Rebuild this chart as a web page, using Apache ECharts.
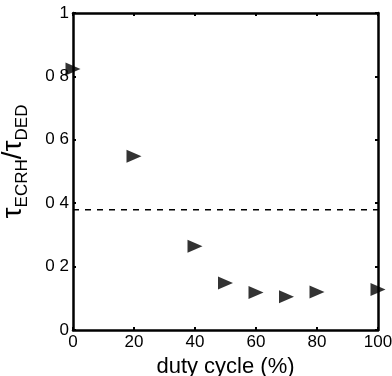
<!DOCTYPE html>
<html><head><meta charset="utf-8">
<script src="https://cdn.jsdelivr.net/npm/echarts@6/dist/echarts.min.js"></script>
<style>html,body{margin:0;padding:0;background:#fff}#c{width:392px;height:376px}</style>
</head><body><div id="c"></div>
<script>
const dutyCycle = [0, 20, 40, 50, 60, 70, 80, 100];
const tauRatio = [0.823, 0.548, 0.264, 0.148, 0.118, 0.105, 0.12, 0.128];
const referenceLevel = 0.379;
const xTicks = [0, 20, 40, 60, 80, 100];
const yTickLabels = {0: '0', 0.2: '0 2', 0.4: '0 4', 0.6: '0 6', 0.8: '0 8', 1: '1'};

const chart = echarts.init(document.getElementById('c'));
const font = 'Liberation Sans';
const axisCommon = {
  axisLine: {show: true, onZero: false, lineStyle: {color: '#000', width: 2.5}},
  axisTick: {show: true, inside: true, length: 3, lineStyle: {color: '#000', width: 2}},
  splitLine: {show: false}
};
chart.setOption({
  animation: false,
  grid: {left: 73, right: 14, top: 13, bottom: 46, containLabel: false, outerBoundsMode: 'none'},
  xAxis: [
    Object.assign({type: 'value', min: 0, max: 100, interval: 20, position: 'bottom',
      axisLabel: {color: '#000', fontSize: 17, fontFamily: font, margin: 4},
      name: 'duty cycle (%)', nameLocation: 'middle', nameGap: 25,
      nameTextStyle: {color: '#000', fontSize: 22, fontFamily: font}}, axisCommon),
    Object.assign({type: 'value', min: 0, max: 100, interval: 20, position: 'top',
      axisLabel: {show: false}}, axisCommon)
  ],
  yAxis: [
    Object.assign({type: 'value', min: 0, max: 1, interval: 0.2, position: 'left',
      axisLabel: {color: '#000', fontSize: 17, fontFamily: font, margin: 4,
        formatter: v => yTickLabels[Math.round(v * 10) / 10]},
      name: '{t|τ}{s|ECRH}{t|/τ}{s|DED}', nameLocation: 'middle', nameGap: 42, nameRotate: 90,
      nameTextStyle: {color: '#000', fontFamily: font, padding: [0, 0, 0, 20],
        rich: {t: {fontSize: 28, fontFamily: font, color: '#000', lineHeight: 36, verticalAlign: 'middle'},
               s: {fontSize: 17, fontFamily: font, color: '#000', lineHeight: 36, verticalAlign: 'bottom', padding: [12, 0, 0, 0]}}}}, axisCommon),
    Object.assign({type: 'value', min: 0, max: 1, interval: 0.2, position: 'right',
      axisLabel: {show: false}}, axisCommon)
  ],
  series: [
    {type: 'line', data: [[0, referenceLevel], [100, referenceLevel]], symbol: 'none',
      lineStyle: {color: '#000', width: 1.5, type: [6, 6]}, silent: true},
    {type: 'scatter', data: dutyCycle.map((d, i) => [d, tauRatio[i]]),
      symbol: 'triangle', symbolRotate: -90, symbolSize: [13, 15],
      itemStyle: {color: '#000'}, clip: false}
  ]
});
</script></body></html>
